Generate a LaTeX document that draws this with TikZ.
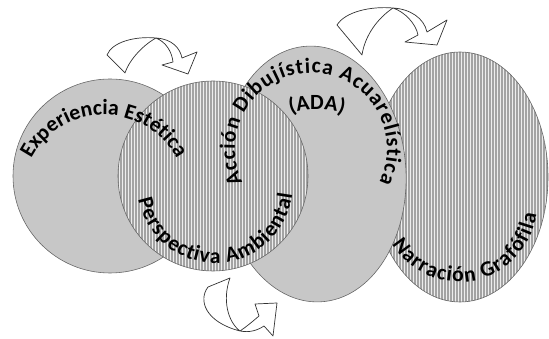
\documentclass[tikz,border=0pt]{standalone}
\usepackage{fontspec}
\setmainfont{Carlito}
\usetikzlibrary{decorations.text}

\definecolor{discgray}{gray}{0.78}
\newcommand{\arclabelfont}{\fontsize{18.5}{22}\selectfont\bfseries}

\tikzset{
  disc/.style={fill=discgray, draw=black!60, line width=0.5pt},
  rim/.style={draw=black!60, line width=0.5pt},
  stripe/.style={draw=gray!72, line width=1pt},
  stripebg/.style={fill=gray!14},
  bentarrow/.style={draw=black!80, fill=white, line width=0.6pt, line join=round},
  arclabel/.style={decorate, decoration={text along path, text align={fit to path}, text={|\arclabelfont|#1}}},
  arclabelmid/.style={decorate, decoration={text along path, text align=center, text={|\arclabelfont|#1}}}
}

\begin{document}
\begin{tikzpicture}[x=0.03cm, y=0.03cm]
\useasboundingbox (0,0) rectangle (549,339);

% Narracion Grafofila
\begin{scope}
  \clip (460,162) ellipse [x radius=88, y radius=125];
  \fill[stripebg] (370,35) rectangle (549,290);
  \foreach \x in {373,376,...,548} \draw[stripe] (\x,35) -- (\x,290);
\end{scope}
\draw[rim] (460,162) ellipse [x radius=88, y radius=125];

% ADA
\filldraw[disc] (314,165) circle [x radius=92, y radius=128, rotate=3];

% Experiencia Estetica
\filldraw[disc] (110,163) circle (97);

% Perspectiva Ambiental
\begin{scope}
  \clip (213,163) circle (95);
  \fill[stripebg] (116,66) rectangle (310,260);
  \foreach \x in {118,121,...,308} \draw[stripe] (\x,66) -- (\x,260);
\end{scope}
\draw[rim] (213,163) circle (95);

% labels along the rims
\path[arclabelmid={Experiencia Estética}] (32.3,181.8) arc [start angle=151, end angle=29, radius=82];
\path[arclabel={Perspectiva Ambiental}] (138.4,139.1) arc [start angle=191, end angle=353, radius=78];
\path[arclabel={Acción Dibujística Acuarelística}] (242.7,156.7) arc [start angle=206, end angle=-26, radius=76];
\path[arclabelmid={(ADA)}] (286.2,223.6) arc [start angle=110, end angle=70, radius=90];
\path[arclabel={Narración Grafófila}] (392.1,94.8) arc [start angle=211, end angle=353, radius=78];

% bent arrows
\draw[bentarrow] (107,284) .. controls (112,297) and (135,303) .. (156,301)
  .. controls (172,300) and (180,291) .. (182,281) -- (197,287) -- (188,265) -- (162,274) -- (173,277)
  .. controls (172,287) and (166,297) .. (156,301)
  .. controls (145,295) and (130,281) .. (125,266) -- cycle;
\draw[bentarrow] (337,314) .. controls (345,327) and (370,333) .. (393,331)
  .. controls (410,330) and (424,321) .. (427,307) -- (447,319) -- (437,294) -- (405,297) -- (418,304)
  .. controls (416,315) and (405,327) .. (393,331)
  .. controls (378,321) and (365,304) .. (362,284) -- cycle;
\draw[bentarrow] (208,52) .. controls (198,39) and (205,17) .. (240,8)
  .. controls (250,6) and (258,9) .. (264,13) -- (273,3) -- (277,36) -- (255,35) -- (259,23)
  .. controls (252,17) and (246,12) .. (240,8)
  .. controls (228,17) and (222,39) .. (230,61) -- cycle;
\end{tikzpicture}
\end{document}
